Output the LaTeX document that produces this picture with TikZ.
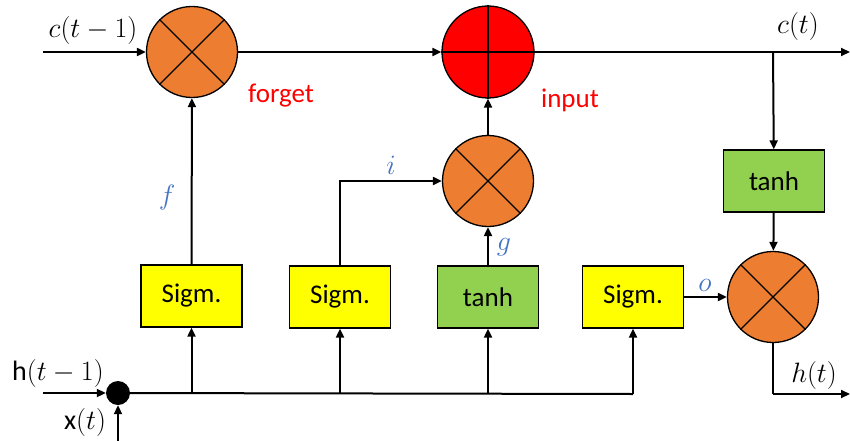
\RequirePackage{fix-cm}
\documentclass[tikz,border=0pt]{standalone}
\usepackage{fontspec}
\setsansfont{Carlito}
\usetikzlibrary{arrows.meta}
\definecolor{orng}{HTML}{ED7D31}
\definecolor{gred}{HTML}{FF0000}
\definecolor{ylw}{HTML}{FFFF00}
\definecolor{grn}{HTML}{92D050}
\definecolor{lblue}{HTML}{4472C4}
\begin{document}
\begin{tikzpicture}[x=1pt,y=-1pt,
  line/.style={line width=2pt,draw=black},
  arr/.style={line, -{Triangle[length=9pt,width=8pt]}},
  mulnode/.style={circle,draw=black,line width=1.3pt,fill=orng,minimum size=91pt,inner sep=0pt},
  addnode/.style={circle,draw=black,line width=1.3pt,fill=gred,minimum size=92pt,inner sep=0pt},
  sigbox/.style={rectangle,draw=black,line width=1.3pt,fill=ylw,minimum width=101pt,minimum height=62pt,inner sep=0pt,font=\sffamily\fontsize{27}{32}\selectfont},
  tanhbox/.style={rectangle,draw=black,line width=1.3pt,fill=grn,minimum width=101pt,minimum height=62pt,inner sep=0pt,font=\sffamily\fontsize{27}{32}\selectfont},
  gatelbl/.style={text=gred,font=\sffamily\fontsize{27}{32}\selectfont},
  vlbl/.style={text=lblue,font=\fontsize{28}{32}\selectfont},
  iolbl/.style={text=black,font=\fontsize{28}{32}\selectfont}
]
\useasboundingbox (0,0) rectangle (850,441);
% nodes
\node[mulnode] (F) at (192,52) {};
\node[addnode] (A) at (488,52) {};
\node[mulnode] (I) at (488,181) {};
\node[tanhbox] (T2) at (774,181) {tanh};
\node[mulnode] (O) at (773,297) {};
\node[sigbox] (S1) at (191.5,296) {Sigm.};
\node[sigbox] (S2) at (340,297) {Sigm.};
\node[tanhbox] (G) at (488,297) {tanh};
\node[sigbox] (S3) at (633,297) {Sigm.};
\node[circle,fill=black,minimum size=24pt,inner sep=0pt] (D) at (118,393) {};
% crosses
\foreach \n in {F,I,O}{
  \draw[line width=1.3pt] (\n.north west) -- (\n.south east);
  \draw[line width=1.3pt] (\n.north east) -- (\n.south west);
}
\draw[line width=1.3pt] (A.north) -- (A.south);
\draw[line width=1.3pt] (A.west) -- (A.east);
% coordinates
\coordinate (cin) at (43,52);
\coordinate (cout) at (850,52);
\coordinate (cbr) at (773,52);
\coordinate (hin) at (43,393);
\coordinate (xin) at (118,441);
\coordinate (hc) at (773,394);
\coordinate (hout) at (850,394);
\coordinate (b1) at (191.5,394);
\coordinate (b2) at (340,394);
\coordinate (b3) at (488,394);
\coordinate (b4) at (633,394);
% connectors
\draw[arr] (cin) -- (F);
\draw[arr] (F) -- (A);
\draw[arr] (A) -- (cout);
\draw[arr] (cbr) -- (T2);
\draw[arr] (T2) -- (O);
\draw[line] (O.south) -- (hc);
\draw[arr] (hc) -- (hout);
\draw[arr] (S3) -- (O);
\draw[arr] (S1) -- (F);
\draw[arr] (S2.north) |- (I.west);
\draw[arr] (G) -- (I);
\draw[arr] (I) -- (A);
\draw[arr] (hin) -- (D);
\draw[arr] (xin) -- (D);
\draw[line] (D.center) -- (b4);
\draw[arr] (b1) -- (S1);
\draw[arr] (b2) -- (S2);
\draw[arr] (b3) -- (G);
\draw[arr] (b4) -- (S3);
% labels
\node[iolbl] (lcin) at (93,31) {$c(t-1)$};
\node[iolbl] (lcout) at (798,27) {$c(t)$};
\node[iolbl] (lhin) at (58,373) {\sffamily h$(t-1)$};
\node[iolbl] (lxin) at (85,422) {\sffamily x$(t)$};
\node[iolbl] (lhout) at (814,375) {$h(t)$};
\node[gatelbl] (lf) at (281,96) {forget};
\node[gatelbl] (li) at (570,100) {input};
\node[vlbl] (vf) at (167,197) {$f$};
\node[vlbl] (vi) at (391,165) {$i$};
\node[vlbl] (vg) at (504,247) {$g$};
\node[vlbl] (vo) at (705,285) {$o$};
\end{tikzpicture}
\end{document}
